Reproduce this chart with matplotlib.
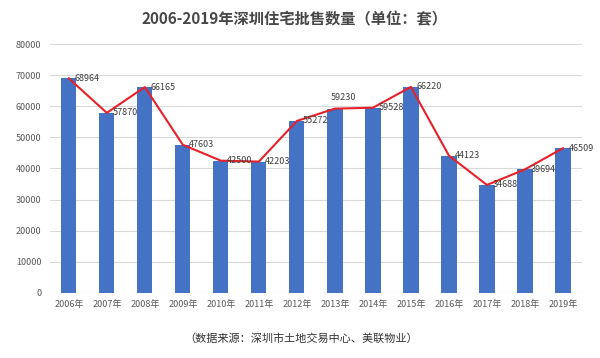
import numpy as np
import matplotlib
matplotlib.use('Agg')
import matplotlib.pyplot as plt

plt.rcParams['font.family'] = ['Noto Sans CJK SC', 'DejaVu Sans']

years = ['2006年', '2007年', '2008年', '2009年', '2010年', '2011年', '2012年',
         '2013年', '2014年', '2015年', '2016年', '2017年', '2018年', '2019年']
sales = [68964, 57870, 66165, 47603, 42500, 42203, 55272,
         59230, 59528, 66220, 44123, 34688, 39694, 46509]
yticks = [0, 10000, 20000, 30000, 40000, 50000, 60000, 70000, 80000]

fig = plt.figure(figsize=(6, 3.58), dpi=100)
ax = fig.add_axes([0.083, 0.182, 0.887, 0.695])

x = np.arange(len(years))
ax.bar(x, sales, width=0.4, color='#4472C4', zorder=2)
ax.plot(x, sales, color='#E8202A', linewidth=1.5, zorder=3)

# 2013 label sits above the point, others to the right
for i, v in enumerate(sales):
    if v == 59230:
        ax.annotate(str(v), (i, v), xytext=(6, 5), textcoords='offset points',
                    ha='center', va='bottom', fontsize=6.5, color='#404040')
    else:
        ax.annotate(str(v), (i, v), xytext=(4, 0), textcoords='offset points',
                    ha='left', va='center', fontsize=6.5, color='#404040')

ax.set_xlim(-0.5, len(years) - 0.5)
ax.set_ylim(0, 80000)
ax.set_yticks(yticks)
ax.set_yticklabels([str(t) for t in yticks])
ax.set_xticks(x)
ax.set_xticklabels(years)
ax.tick_params(axis='both', length=0, labelsize=6.5, labelcolor='#595959')
ax.tick_params(axis='y', pad=6)
ax.tick_params(axis='x', pad=5)
ax.grid(axis='y', color='#D9D9D9', linewidth=0.8, zorder=0)
ax.set_axisbelow(True)
for s in ax.spines.values():
    s.set_visible(False)

fig.text(0.49, 0.945, '2006-2019年深圳住宅批售数量（单位：套）', ha='center', va='center',
         fontsize=11, fontweight='bold', color='#474747')
fig.text(0.502, 0.055, '（数据来源：深圳市土地交易中心、美联物业）', ha='center', va='center',
         fontsize=8, color='#333333')

plt.savefig('out.png', dpi=100)
